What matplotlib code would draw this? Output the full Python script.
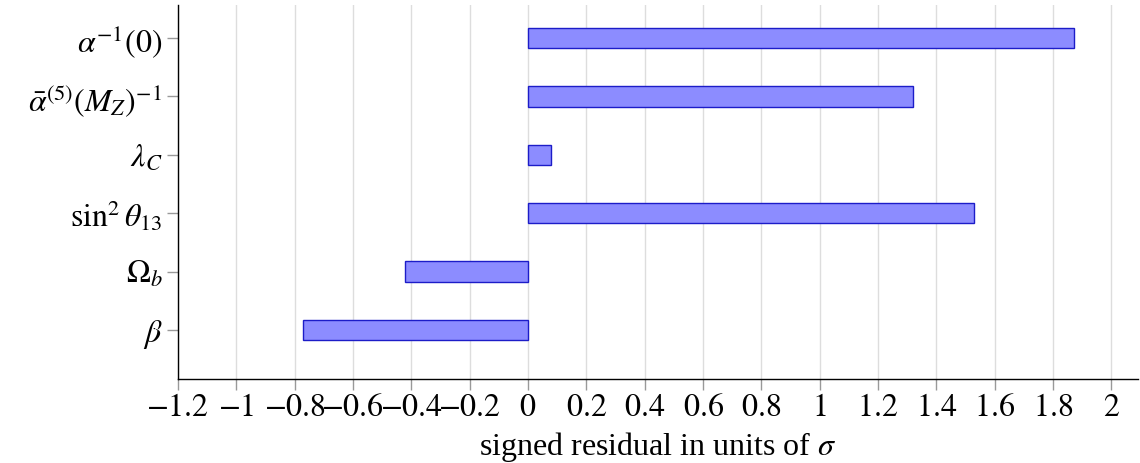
import matplotlib
matplotlib.use("Agg")
import matplotlib.pyplot as plt
import numpy as np

# parameters, top to bottom as drawn
labels = [r"$\alpha^{-1}(0)$", r"$\bar{\alpha}^{(5)}(M_Z)^{-1}$", r"$\lambda_C$",
          r"$\sin^2\theta_{13}$", r"$\Omega_b$", r"$\beta$"]
residuals = [1.87, 1.32, 0.08, 1.53, -0.42, -0.77]
xticks = [-1.2, -1.0, -0.8, -0.6, -0.4, -0.2, 0.0, 0.2, 0.4, 0.6, 0.8, 1.0,
          1.2, 1.4, 1.6, 1.8, 2.0]

plt.rcParams['font.family'] = ['Liberation Serif', 'DejaVu Serif']
plt.rcParams['mathtext.fontset'] = 'stix'

fig = plt.figure(figsize=(11.4, 4.63), dpi=100)
ax = fig.add_axes([0.156, 0.181, 0.842, 0.808])

ypos = np.arange(len(labels))[::-1]
ax.barh(ypos, residuals, height=0.35, color='#8c8cff', edgecolor='#1c1cc8',
        linewidth=1.0, zorder=3)

ax.set_xlim(-1.2, 2.09)
ax.set_ylim(-0.84, 5.56)
ax.set_xticks(xticks)
ax.set_xticklabels([r"$%g$" % t for t in xticks])
ax.set_yticks(ypos)
ax.set_yticklabels(labels)
ax.tick_params(axis='both', labelsize=23, color='#999999', length=8, width=1)
ax.tick_params(axis='y', pad=3)
ax.tick_params(axis='x', pad=3)
ax.grid(axis='x', color='#dddddd', linewidth=1, zorder=0)
ax.set_axisbelow(True)

for s in ['top', 'right']:
    ax.spines[s].set_visible(False)
for s in ['left', 'bottom']:
    ax.spines[s].set_linewidth(1.0)
    ax.spines[s].set_color('black')

ax.set_xlabel(r"signed residual in units of $\sigma$", fontsize=23, labelpad=5)

fig.savefig("out.png", dpi=100)
